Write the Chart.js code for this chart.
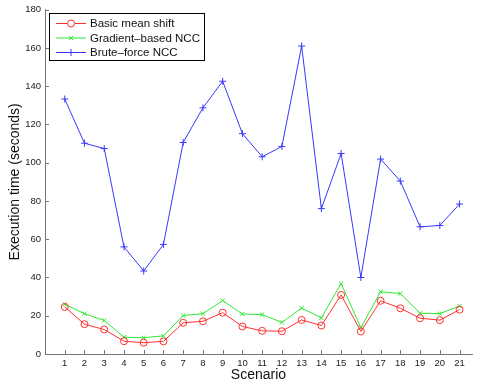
<!DOCTYPE html>
<html>
<head>
<meta charset="utf-8">
<script src="https://cdn.jsdelivr.net/npm/chart.js@4/dist/chart.umd.min.js"></script>
<style>
  html, body { margin: 0; padding: 0; background: #fff; }
  #wrap { width: 477px; height: 384px; }
</style>
</head>
<body>
<div id="wrap"><canvas id="chart"></canvas></div>
<script>
// scenario numbers (x axis)
const scenarios = [1,2,3,4,5,6,7,8,9,10,11,12,13,14,15,16,17,18,19,20,21];

// execution times in seconds
const meanShift = [24.6,15.6,12.8,6.7,5.9,6.6,16.3,17.1,21.6,14.4,12.1,11.9,17.8,14.9,30.9,11.8,27.8,23.9,18.7,17.7,23.2];
const gradientNCC = [26,21.1,17.5,8.8,8.5,9.5,20.1,21.1,27.9,20.9,20.6,16.5,24,18.9,36.8,13.7,32.6,31.6,21.3,21.1,25.1];
const bruteNCC = [133.3,110.2,107.4,56,43.4,57.3,110.6,128.7,142.6,115.2,103.1,108.5,161,76,104.8,40,101.9,90.4,66.5,67.2,78.4];

const seriesNames = ['Basic mean shift', 'Gradient\u2013based NCC', 'Brute\u2013force NCC'];
const yTicks = [0,20,40,60,80,100,120,140,160,180];

const FONT = '"Liberation Sans", Arial, sans-serif';
const AXIS = '#777';

function pts(vals) {
  return vals.map((v, i) => ({ x: scenarios[i], y: v }));
}

// inward tick marks like the original plot
const innerTicks = {
  id: 'innerTicks',
  afterDraw(chart) {
    const ctx = chart.ctx;
    const xs = chart.scales.x, ys = chart.scales.y;
    const area = chart.chartArea;
    ctx.save();
    ctx.strokeStyle = AXIS;
    ctx.lineWidth = 1;
    ctx.beginPath();
    yTicks.forEach(t => {
      const py = Math.round(ys.getPixelForValue(t)) + 0.5;
      ctx.moveTo(area.left, py);
      ctx.lineTo(area.left + 4, py);
    });
    scenarios.forEach(s => {
      const px = Math.round(xs.getPixelForValue(s)) + 0.5;
      ctx.moveTo(px, area.bottom);
      ctx.lineTo(px, area.bottom - 4);
    });
    ctx.stroke();
    ctx.restore();
  }
};

// boxed legend in the upper left corner
const boxLegend = {
  id: 'boxLegend',
  afterDraw(chart) {
    const ctx = chart.ctx;
    const left = 49.5, top = 13.5, w = 155, h = 47;
    ctx.save();
    ctx.fillStyle = '#fff';
    ctx.fillRect(left, top, w, h);
    ctx.strokeStyle = '#000';
    ctx.lineWidth = 1;
    ctx.strokeRect(left, top, w, h);
    ctx.font = '11.5px ' + FONT;
    ctx.textBaseline = 'middle';
    chart.data.datasets.forEach((ds, i) => {
      const y = 23.5 + i * 14.5;
      ctx.strokeStyle = ds.borderColor;
      ctx.beginPath();
      ctx.moveTo(56, y);
      ctx.lineTo(86, y);
      ctx.stroke();
      Chart.helpers.drawPoint(ctx, {
        pointStyle: ds.pointStyle, radius: ds.pointRadius, borderWidth: 1
      }, 71, y);
      ctx.fillStyle = '#111';
      ctx.fillText(ds.label, 90, y + 0.5);
    });
    ctx.restore();
  }
};

new Chart(document.getElementById('chart'), {
  type: 'line',
  data: {
    datasets: [
      {
        label: seriesNames[0],
        data: pts(meanShift),
        borderColor: '#ff3030',
        backgroundColor: 'rgba(0,0,0,0)',
        pointStyle: 'circle',
        pointRadius: 3.5,
        pointBorderWidth: 1
      },
      {
        label: seriesNames[1],
        data: pts(gradientNCC),
        borderColor: '#30e830',
        backgroundColor: 'rgba(0,0,0,0)',
        pointStyle: 'crossRot',
        pointRadius: 3,
        pointBorderWidth: 1
      },
      {
        label: seriesNames[2],
        data: pts(bruteNCC),
        borderColor: '#3838ff',
        backgroundColor: 'rgba(0,0,0,0)',
        pointStyle: 'cross',
        pointRadius: 3.5,
        pointBorderWidth: 1
      }
    ]
  },
  options: {
    responsive: true,
    maintainAspectRatio: false,
    animation: false,
    borderWidth: 1,
    elements: { line: { borderWidth: 1, tension: 0 } },
    layout: { padding: { top: 9, right: 0, left: 0, bottom: 0 } },
    plugins: {
      legend: { display: false },
      tooltip: { enabled: false }
    },
    scales: {
      x: {
        type: 'linear',
        min: 0,
        max: 21.63,
        afterFit(scale) { scale.height = 30; },
        afterBuildTicks(scale) { scale.ticks = scenarios.map(v => ({ value: v })); },
        grid: { display: true, drawOnChartArea: false, drawTicks: false },
        border: { display: true, color: AXIS },
        ticks: { padding: 4, color: '#222', font: { family: FONT, size: 9.5 }, maxRotation: 0, autoSkip: false },
        title: { display: true, text: 'Scenario', color: '#111', font: { family: FONT, size: 14 }, padding: { top: 0, bottom: 0 } }
      },
      y: {
        min: 0,
        max: 180,
        afterFit(scale) { scale.width = 45; },
        afterBuildTicks(scale) { scale.ticks = yTicks.map(v => ({ value: v })); },
        grid: { display: true, drawOnChartArea: false, drawTicks: false },
        border: { display: true, color: AXIS },
        ticks: { padding: 4, color: '#222', font: { family: FONT, size: 9.5 } },
        title: { display: true, text: 'Execution time (seconds)', color: '#111', font: { family: FONT, size: 14 }, padding: { top: 7, bottom: 0 } }
      }
    }
  },
  plugins: [innerTicks, boxLegend]
});
</script>
</body>
</html>
